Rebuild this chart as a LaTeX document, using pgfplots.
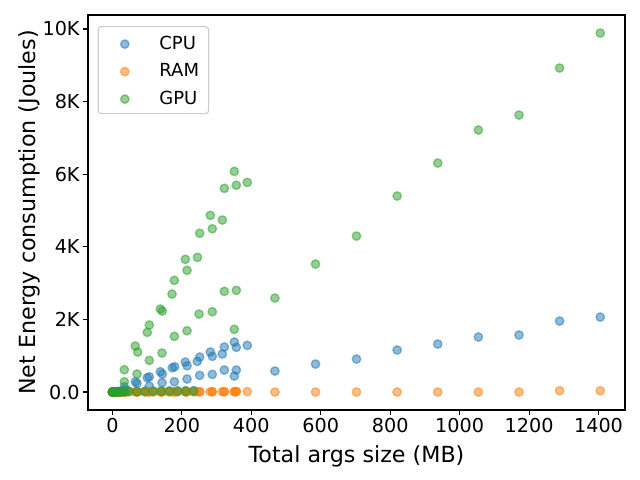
\documentclass[border=0pt]{standalone}
\usepackage{fontspec}
\setmainfont{DejaVu Sans}
\usepackage{pgfplots}
\pgfplotsset{compat=1.18}
\definecolor{tabblue}{HTML}{1F77B4}
\definecolor{taborange}{HTML}{FF7F0E}
\definecolor{tabgreen}{HTML}{2CA02C}
\definecolor{legedge}{RGB}{204,204,204}
\pgfplotsset{
  sc/.style={only marks, mark=*, mark size=4.2bp,
    mark options={draw=#1, fill=#1, draw opacity=0.5, fill opacity=0.5, line width=1.4bp},
    legend image code/.code={\path[draw=none,fill=none] (-17bp,0bp) -- (5.6bp,0bp); \draw[##1] plot coordinates {(0bp,-1.5bp)};}},
}
\begin{document}
\begin{tikzpicture}
\useasboundingbox (0,0) rectangle (640bp,480bp);
\begin{axis}[
  at={(88bp,70bp)}, anchor=south west,
  scale only axis, width=537bp, height=395bp,
  xmin=-70.3, xmax=1476.3, ymin=-494.5, ymax=10384.5,
  xtick={0,200,...,1400},
  ytick={0,2000,4000,6000,8000,10000},
  yticklabels={0.0,2K,4K,6K,8K,10K},
  scaled x ticks=false, scaled y ticks=false,
  tick pos=left, tick align=outside,
  major tick length=4.9bp,
  every tick/.style={black, line width=1.1bp},
  axis line style={line width=1.1bp},
  /pgf/number format/assume math mode=true,
  /pgf/number format/set thousands separator={},
  tick label style={font=\fontsize{19.2bp}{22bp}\selectfont},
  xlabel={Total args size (MB)},
  ylabel={Net Energy consumption (Joules)},
  every axis x label/.style={at={(axis description cs:0.5,-0.118)}, anchor=center, font=\fontsize{22.2bp}{26bp}\selectfont},
  every axis y label/.style={at={(axis description cs:-0.110,0.5)}, anchor=center, rotate=90, font=\fontsize{22.2bp}{26bp}\selectfont},
  legend style={at={(0.018,0.972)}, anchor=north west, draw=legedge, line width=1.1bp, rounded corners=3bp, fill=white,
    inner xsep=9.6bp, inner ysep=9.5bp, row sep=14.5bp, column sep=29bp,
    font=\fontsize{18bp}{21bp}\selectfont,
    nodes={inner sep=0pt, text height=13bp, text depth=0pt}},
  legend cell align=left,
]
% CPU
\addplot[sc=tabblue] coordinates {
(468,578) (585,771) (703,909) (820,1157) (937,1322) (1054,1515) (1171,1570) (1288,1955) (1405,2065)
(34.3,146) (35,60)
(66,284) (71,240)
(100.5,394) (106.3,421) (106.3,165)
(138,559) (143.7,496) (143,256)
(172.5,669) (179.4,697) (178.3,284)
(210,826) (215,724) (215,358)
(244.5,845) (251.4,964) (251.4,460)
(282,1102) (287.7,983) (287.7,487)
(316.5,1047) (322.3,1239) (322.3,606)
(351.1,1377) (356.9,1231) (351.1,441) (356.9,606)
(388.5,1286)
(0,0) (1,1) (2,2) (4,3) (6,4) (10,6) (14,8) (18,10) (23.4,15) (30,20) (38,25) (46.9,30)
(70.3,20) (93.8,25) (117.2,30) (140.6,30) (164,35) (187.5,35) (211,40) (234.4,40)
};
\addlegendentry{CPU}
% RAM
\addplot[sc=taborange] coordinates {
(468,0) (585,0) (703,0) (820,0) (937,0) (1054,0) (1171,0) (1288,36) (1405,36)
(34.3,2) (35,1)
(66,3) (71,3) (72.9,3)
(100.5,4) (106.3,4) (106.3,3)
(138,5) (143.7,5) (143,4)
(172.5,6) (179.4,6) (178.3,5)
(210,7) (215,7) (215,6)
(244.5,8) (251.4,8) (251.4,7)
(282,9) (287.7,9) (287.7,8)
(316.5,10) (322.3,10) (322.3,9)
(351.1,11) (356.9,11) (351.1,10) (356.9,10)
(388.5,12)
(0,0) (0.3,0) (0.6,0) (1,0) (1.5,0) (2,0) (3,0) (4,0) (5,0) (6,0) (8,0) (10,0) (12,1) (14,1) (16,1) (18,1) (20,1)
(23.4,1) (26,1) (30,1) (34,2) (38,2) (46.9,2)
(70.3,2) (93.8,3) (117.2,3) (140.6,4) (164,4) (187.5,5) (211,5) (234.4,6)
};
\addlegendentry{RAM}
% GPU
\addplot[sc=tabgreen] coordinates {
(468,2589) (585,3525) (703,4296) (820,5398) (937,6307) (1054,7216) (1171,7629) (1288,8923) (1405,9887)
(34.3,614) (34.3,284)
(66,1267) (72.9,1102) (70.9,496)
(100.5,1644) (106.3,1846) (106.3,872)
(138,2286) (143.7,2231) (142.9,1074)
(171.7,2699) (178.3,3076) (178.3,1534)
(210,3655) (214.9,3352) (214.9,1688)
(245,3710) (251.4,4373) (249.4,2148)
(282,4866) (287.7,4497) (287.7,2211)
(316.5,4737) (322.3,5610) (322.3,2773)
(351.1,6078) (356.9,5695) (356.9,2801) (351.1,1727)
(388.5,5775)
(0,0) (0.3,0) (0.6,1) (1,0) (1.5,2) (2,1) (3,2) (4,3) (5,2) (6,4) (8,5) (10,4) (12,6) (14,5) (16,7) (18,6) (20,8)
(23.4,9) (26,8) (30,10) (34,12) (38,10) (46.9,15)
(70.3,10) (93.8,12) (117.2,14) (140.6,15) (164,16) (187.5,18) (211,18) (234.4,20)
};
\addlegendentry{GPU}
\end{axis}
\end{tikzpicture}
\end{document}
